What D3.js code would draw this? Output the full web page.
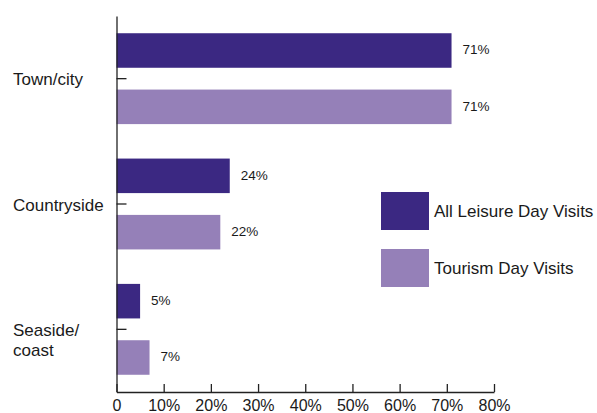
<!DOCTYPE html>
<html>
<head>
<meta charset="utf-8">
<script src="https://cdn.jsdelivr.net/npm/d3@7/dist/d3.min.js"></script>
<style>
  html, body { margin: 0; padding: 0; background: #fff; }
  svg { display: block; font-family: "Liberation Sans", Arial, sans-serif; }
</style>
</head>
<body>
<svg id="chart" width="597" height="413"></svg>
<script>
// Share of day visits by destination type
const categories = ["Town/city", "Countryside", "Seaside/ coast"];
const seriesNames = ["All Leisure Day Visits", "Tourism Day Visits"];
const allLeisure = [0.71, 0.24, 0.05];
const tourism = [0.71, 0.22, 0.07];
const xTicks = [0, 0.1, 0.2, 0.3, 0.4, 0.5, 0.6, 0.7, 0.8];
const colors = ["#3b2882", "#9580b8"];

const seriesValues = [allLeisure, tourism];
const rows = categories.map((c, i) => ({
  category: c,
  values: seriesNames.map((s, j) => ({ series: s, value: seriesValues[j][i] }))
}));

const svg = d3.select("#chart");
const plotLeft = 116.5, plotRight = 494, plotTop = 16, plotBottom = 392;

const x = d3.scaleLinear().domain([0, 0.8]).range([plotLeft, plotRight]);
const y0 = d3.scaleBand().domain(categories).range([plotTop, plotBottom])
  .paddingInner(0.275).paddingOuter(0.1375);
const y1 = d3.scaleBand().domain(seriesNames).range([0, y0.bandwidth()])
  .paddingInner(0.387);
const color = d3.scaleOrdinal().domain(seriesNames).range(colors);

// bars
const groups = svg.append("g").selectAll("g").data(rows).join("g")
  .attr("transform", d => `translate(0,${y0(d.category)})`);

groups.selectAll("rect").data(d => d.values).join("rect")
  .attr("x", x(0))
  .attr("y", d => y1(d.series))
  .attr("width", d => x(d.value) - x(0))
  .attr("height", y1.bandwidth())
  .attr("fill", d => color(d.series));

// value labels
groups.selectAll("text.val").data(d => d.values).join("text")
  .attr("class", "val")
  .attr("x", d => x(d.value) + 11)
  .attr("y", d => y1(d.series) + y1.bandwidth() / 2)
  .attr("dy", "0.28em")
  .attr("font-size", 13.5)
  .attr("fill", "#1a1a1a")
  .text(d => d3.format(".0%")(d.value));

// x axis with ticks pointing into the plot
const xAxis = d3.axisBottom(x).tickValues(xTicks)
  .tickSizeInner(-8).tickSizeOuter(0).tickPadding(8)
  .tickFormat(d => d === 0 ? "0" : d3.format(".0%")(d));
const gx = svg.append("g").attr("transform", `translate(0,${plotBottom})`).call(xAxis);
gx.select(".domain").attr("stroke", "#222").attr("stroke-width", 1.3);
gx.selectAll(".tick line").attr("stroke", "#222").attr("stroke-width", 1.3);
gx.selectAll(".tick text").attr("font-size", 16).attr("fill", "#1a1a1a")
  .attr("font-family", "Liberation Sans, Arial, sans-serif");

// y axis with category ticks pointing into the plot
const yAxis = d3.axisLeft(y0).tickSizeInner(-10).tickSizeOuter(0).tickPadding(0);
const gy = svg.append("g").attr("transform", `translate(${plotLeft},0)`).call(yAxis);
gy.select(".domain").attr("stroke", "#222").attr("stroke-width", 1.3);
gy.selectAll(".tick line").attr("stroke", "#222").attr("stroke-width", 1.3);
gy.selectAll(".tick text").remove();

// category labels, left aligned, wrapped at the space after a slash
gy.selectAll(".tick").each(function(d) {
  const lines = d.split("/ ").map((s, i, a) => i < a.length - 1 ? s + "/" : s);
  const t = d3.select(this).append("text")
    .attr("x", 13 - plotLeft)
    .attr("text-anchor", "start")
    .attr("font-size", 17)
    .attr("fill", "#1a1a1a")
    .attr("font-family", "Liberation Sans, Arial, sans-serif");
  lines.forEach((line, i) => {
    t.append("tspan").attr("x", 13 - plotLeft)
      .attr("dy", i === 0 ? "0.4em" : "1.18em")
      .text(line);
  });
});

// legend
const legend = svg.append("g").attr("transform", "translate(381,192)");
const items = legend.selectAll("g").data(seriesNames).join("g")
  .attr("transform", (d, i) => `translate(0,${i * 57})`);
items.append("rect").attr("width", 48).attr("height", 38).attr("fill", d => color(d));
items.append("text").attr("x", 53).attr("y", 19).attr("dy", "0.38em")
  .attr("font-size", 17).attr("fill", "#1a1a1a")
  .text(d => d);
</script>
</body>
</html>
